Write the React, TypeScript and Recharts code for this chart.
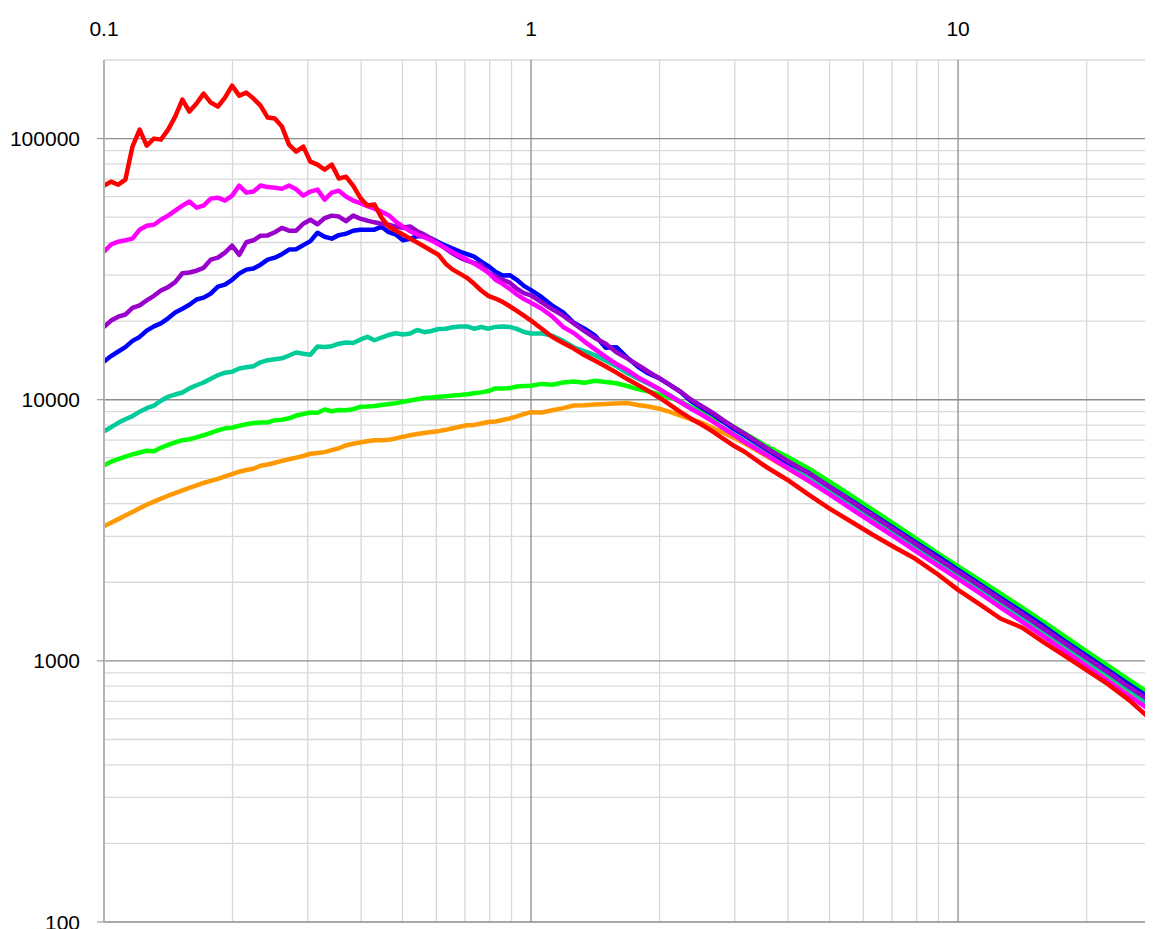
import React from 'react';
import { LineChart, Line, XAxis, YAxis, ReferenceLine } from 'recharts';

const xValues = [
  0.1, 0.1039, 0.108, 0.1122, 0.1166, 0.1212, 0.1259, 0.1309, 0.1359, 0.1413,
  0.1468, 0.1526, 0.1585, 0.1647, 0.1711, 0.1778, 0.1848, 0.192, 0.1995, 0.2073,
  0.2154, 0.2239, 0.2326, 0.2417, 0.2512, 0.261, 0.2712, 0.2818, 0.2929, 0.3043,
  0.3162, 0.3286, 0.3415, 0.3548, 0.3687, 0.3831, 0.3981, 0.4137, 0.4299, 0.4467,
  0.4642, 0.4824, 0.5012, 0.5208, 0.5412, 0.5623, 0.5843, 0.6072, 0.631, 0.6557,
  0.6813, 0.7079, 0.7356, 0.7644, 0.7943, 0.8254, 0.8577, 0.8913, 0.9261, 0.9624,
  1.0,
  1.059, 1.122, 1.189, 1.259, 1.334, 1.413, 1.496, 1.585, 1.679, 1.778,
  1.884, 1.995, 2.113, 2.239, 2.371, 2.512, 2.661, 2.818, 2.985, 3.162,
  3.548, 3.981, 4.467, 5.012, 5.623, 6.31, 7.079, 7.943, 8.913, 10,
  11.22, 12.59, 14.13, 15.85, 17.78, 19.95, 22.39, 25.12, 28.18, 28.6,
];

const redSeries = [
  66100, 68400, 66600, 69600, 93200, 108300, 94000, 100000, 99100, 108300,
  121400, 141100, 126900, 136200, 148700, 137400, 132600, 143600, 159600, 146100,
  150000, 142300, 133800, 120400, 119300, 111200, 94800, 89200, 93200, 81600,
  79500, 76100, 79500, 70300, 71500, 66100, 59400, 55400, 55900, 49800,
  46000, 44400, 42900, 41400, 40000, 38600, 37200, 35900, 33200, 31500,
  30400, 29300, 27800, 26200, 25000, 24400, 23700, 22800, 21900, 21000,
  20100,
  18700, 17400, 16500, 15700, 14800, 14100, 13400, 12700, 12000, 11400,
  10800, 10200, 9570, 8960, 8460, 8020, 7570, 7090, 6660, 6320,
  5540, 4940, 4330, 3820, 3410, 3040, 2730, 2460, 2160, 1870,
  1650, 1450, 1340, 1180, 1045, 924, 816, 709, 600, 584,
];

const magentaSeries = [
  36900, 39300, 40300, 40800, 41400, 44800, 46400, 46800, 48900, 50700,
  53000, 55400, 57400, 54400, 55400, 58900, 59400, 57900, 60500, 66100,
  62100, 62700, 66100, 65200, 64900, 64300, 66100, 64000, 60500, 62700,
  63800, 58400, 62100, 63200, 60000, 57900, 56600, 55100, 53900, 52500,
  50900, 48100, 46000, 44200, 42900, 41900, 40700, 39400, 38100, 36700,
  35500, 34400, 33200, 32000, 30700, 28800, 27800, 26600, 25300, 24300,
  23500,
  22300, 20800, 19000, 18000, 16700, 15600, 14600, 13700, 13000, 12200,
  11600, 11000, 10360, 9780, 9240, 8760, 8270, 7780, 7340, 6900,
  6160, 5490, 4890, 4330, 3820, 3380, 2990, 2640, 2330, 2060,
  1820, 1600, 1410, 1240, 1090, 957, 838, 734, 649, 638,
];

const purpleSeries = [
  19000, 20100, 20800, 21200, 22500, 23000, 24000, 25000, 26200, 27000,
  28200, 30500, 30700, 31200, 32000, 34400, 35000, 36600, 38900, 35900,
  40100, 40800, 42500, 42600, 43800, 45500, 44400, 44400, 47200, 48900,
  47000, 49600, 50700, 50300, 48300, 50700, 49400, 48500, 47800, 47200,
  46800, 46000, 45600, 46100, 44200, 42900, 41400, 39600, 37900, 36300,
  35000, 34100, 33400, 32900, 30700, 29600, 28800, 28100, 26600, 25600,
  25100,
  23600, 22200, 21000, 19600, 18300, 17200, 16400, 15200, 14400, 13600,
  12800, 12100, 11400, 10730, 10000, 9440, 8920, 8350, 7850, 7410,
  6550, 5840, 5230, 4620, 4080, 3600, 3180, 2810, 2480, 2190,
  1940, 1710, 1510, 1330, 1170, 1030, 908, 795, 703, 690,
];

const blueSeries = [
  14000, 14700, 15300, 15900, 16800, 17400, 18400, 19100, 19600, 20500,
  21600, 22300, 23100, 24200, 24600, 25500, 27100, 27600, 28800, 30400,
  31500, 31800, 32900, 34400, 35000, 36100, 37600, 37700, 39100, 40500,
  43600, 42100, 41400, 42700, 43200, 44400, 44800, 44800, 44800, 46000,
  43800, 42900, 40800, 41300, 42300, 42300, 41400, 40100, 38900, 37900,
  36900, 36100, 35300, 33800, 32500, 30900, 29900, 30000, 28800, 27300,
  26300,
  24700, 22900, 21600, 19700, 18700, 17600, 15800, 15900, 14500, 13400,
  12600, 12100, 11400, 10730, 9870, 9320, 8800, 8240, 7740, 7310,
  6490, 5760, 5250, 4640, 4120, 3640, 3220, 2850, 2530, 2230,
  1970, 1740, 1540, 1360, 1190, 1050, 924, 813, 718, 709,
];

const tealSeries = [
  7570, 7850, 8160, 8420, 8650, 9000, 9280, 9500, 9910, 10270,
  10470, 10660, 11060, 11360, 11640, 12040, 12410, 12690, 12800, 13180,
  13320, 13440, 13910, 14170, 14280, 14410, 14770, 15170, 15010, 14870,
  16000, 15930, 16030, 16390, 16560, 16500, 16980, 17430, 16900, 17310,
  17700, 17980, 17780, 17930, 18510, 18140, 18330, 18660, 18710, 18940,
  19090, 19090, 18710, 18990, 18710, 19010, 19090, 19010, 18680, 18170,
  17930,
  17950, 17560, 16800, 15880, 15350, 14800, 14110, 13440, 12650, 12060,
  11510, 10960, 10400, 9820, 9280, 8800, 8310, 7810, 7380, 6960,
  6210, 5560, 4980, 4420, 3930, 3480, 3080, 2730, 2420, 2140,
  1890, 1670, 1470, 1300, 1140, 1004, 884, 774, 678, 666,
];

const greenSeries = [
  5610, 5790, 5920, 6050, 6180, 6280, 6380, 6350, 6550, 6720,
  6870, 7000, 7060, 7180, 7310, 7470, 7630, 7770, 7810, 7950,
  8060, 8150, 8190, 8190, 8350, 8380, 8490, 8700, 8820, 8940,
  8920, 9170, 9040, 9140, 9120, 9200, 9400, 9420, 9470, 9550,
  9630, 9700, 9820, 9940, 10050, 10160, 10200, 10260, 10320, 10380,
  10420, 10490, 10580, 10670, 10800, 11050, 11030, 11080, 11240, 11280,
  11320,
  11500, 11420, 11650, 11750, 11620, 11820, 11690, 11560, 11290, 10980,
  10760, 10490, 10200, 9830, 9380, 8960, 8530, 8250, 7880, 7440,
  6660, 6050, 5460, 4850, 4290, 3790, 3350, 2950, 2600, 2300,
  2040, 1810, 1600, 1410, 1240, 1090, 961, 846, 747, 734,
];

const orangeSeries = [
  3280, 3380, 3490, 3600, 3720, 3840, 3960, 4070, 4180, 4290,
  4390, 4500, 4600, 4700, 4800, 4890, 4980, 5090, 5190, 5300,
  5380, 5440, 5590, 5650, 5740, 5830, 5920, 6000, 6090, 6210,
  6250, 6300, 6410, 6520, 6690, 6780, 6860, 6930, 6990, 7000,
  7020, 7110, 7220, 7310, 7390, 7460, 7520, 7580, 7670, 7780,
  7880, 7980, 8010, 8110, 8220, 8250, 8360, 8480, 8630, 8810,
  8960,
  8940, 9120, 9290, 9500, 9530, 9590, 9640, 9670, 9710, 9540,
  9420, 9240, 8980, 8700, 8400, 8160, 7810, 7470, 7150, 6810,
  6100, 5460, 4890, 4350, 3860, 3420, 3030, 2690, 2370, 2100,
  1850, 1640, 1450, 1275, 1120, 987, 869, 764, 690, 678,
];

const xTicks = [0.1, 1, 10];
const xTickLabels = ['0.1', '1', '10'];
const yTicks = [100, 1000, 10000, 100000];
const yTickLabels = ['100', '1000', '10000', '100000'];
const xMinorGrid = [0.2, 0.3, 0.4, 0.5, 0.6, 0.7, 0.8, 0.9, 2, 3, 4, 5, 6, 7, 8, 9, 20];
const xMajorGrid = [1, 10];
const yMinorGrid = [
  200, 300, 400, 500, 600, 700, 800, 900,
  2000, 3000, 4000, 5000, 6000, 7000, 8000, 9000,
  20000, 30000, 40000, 50000, 60000, 70000, 80000, 90000, 200000,
];
const yMajorGrid = [100, 1000, 10000, 100000];

const seriesDefs = [
  { key: 'orange', color: '#ff9900', values: orangeSeries },
  { key: 'green', color: '#00ff00', values: greenSeries },
  { key: 'teal', color: '#00cc99', values: tealSeries },
  { key: 'blue', color: '#0000ff', values: blueSeries },
  { key: 'purple', color: '#9900cc', values: purpleSeries },
  { key: 'magenta', color: '#ff00ff', values: magentaSeries },
  { key: 'red', color: '#ff0000', values: redSeries },
];

const data = xValues.map((x, i) => {
  const row: Record<string, number> = { x };
  seriesDefs.forEach((s) => {
    row[s.key] = s.values[i];
  });
  return row;
});

const FONT = '"Liberation Sans", Arial, sans-serif';

function XTick(props: any) {
  const { x, payload } = props;
  const i = xTicks.indexOf(payload.value);
  return (
    <text x={x} y={28} textAnchor="middle" fontSize={21} fontFamily={FONT} fill="#000">
      {i >= 0 ? xTickLabels[i] : String(payload.value)}
    </text>
  );
}

function YTick(props: any) {
  const { y, payload } = props;
  const i = yTicks.indexOf(payload.value);
  return (
    <text x={72} y={y} dy={7.5} textAnchor="end" fontSize={21} fontFamily={FONT} fill="#000">
      {i >= 0 ? yTickLabels[i] : String(payload.value)}
    </text>
  );
}

export default function App() {
  return (
    <div style={{ width: 1137, height: 921 }}>
      <LineChart
        width={1137}
        height={921}
        data={data}
        margin={{ top: 0, right: 0, bottom: 7, left: 0 }}
      >
        <XAxis
          dataKey="x"
          type="number"
          scale="log"
          domain={[0.1, 27.4]}
          allowDataOverflow
          orientation="top"
          height={52}
          ticks={xTicks}
          tick={<XTick />}
          tickLine={false}
          axisLine={false}
          interval={0}
        />
        <YAxis
          type="number"
          scale="log"
          domain={[100, 200000]}
          allowDataOverflow
          width={96}
          ticks={yTicks}
          tick={<YTick />}
          tickSize={7}
          tickLine={{ stroke: '#8c8c8c', strokeWidth: 1 }}
          axisLine={{ stroke: '#b4b4b4', strokeWidth: 2 }}
          interval={0}
        />
        {xMinorGrid.map((v) => (
          <ReferenceLine key={'xm' + v} x={v} stroke="#d9d9d9" strokeWidth={1.3} />
        ))}
        {yMinorGrid.map((v) => (
          <ReferenceLine key={'ym' + v} y={v} stroke="#d9d9d9" strokeWidth={1.3} />
        ))}
        {xMajorGrid.map((v) => (
          <ReferenceLine key={'xM' + v} x={v} stroke="#8c8c8c" strokeWidth={1.3} />
        ))}
        {yMajorGrid.map((v) => (
          <ReferenceLine key={'yM' + v} y={v} stroke="#8c8c8c" strokeWidth={1.3} />
        ))}
        {seriesDefs.map((s) => (
          <Line
            key={s.key}
            dataKey={s.key}
            stroke={s.color}
            strokeWidth={4.5}
            dot={false}
            activeDot={false}
            isAnimationActive={false}
            strokeLinejoin="round"
            strokeLinecap="round"
          />
        ))}
      </LineChart>
    </div>
  );
}
